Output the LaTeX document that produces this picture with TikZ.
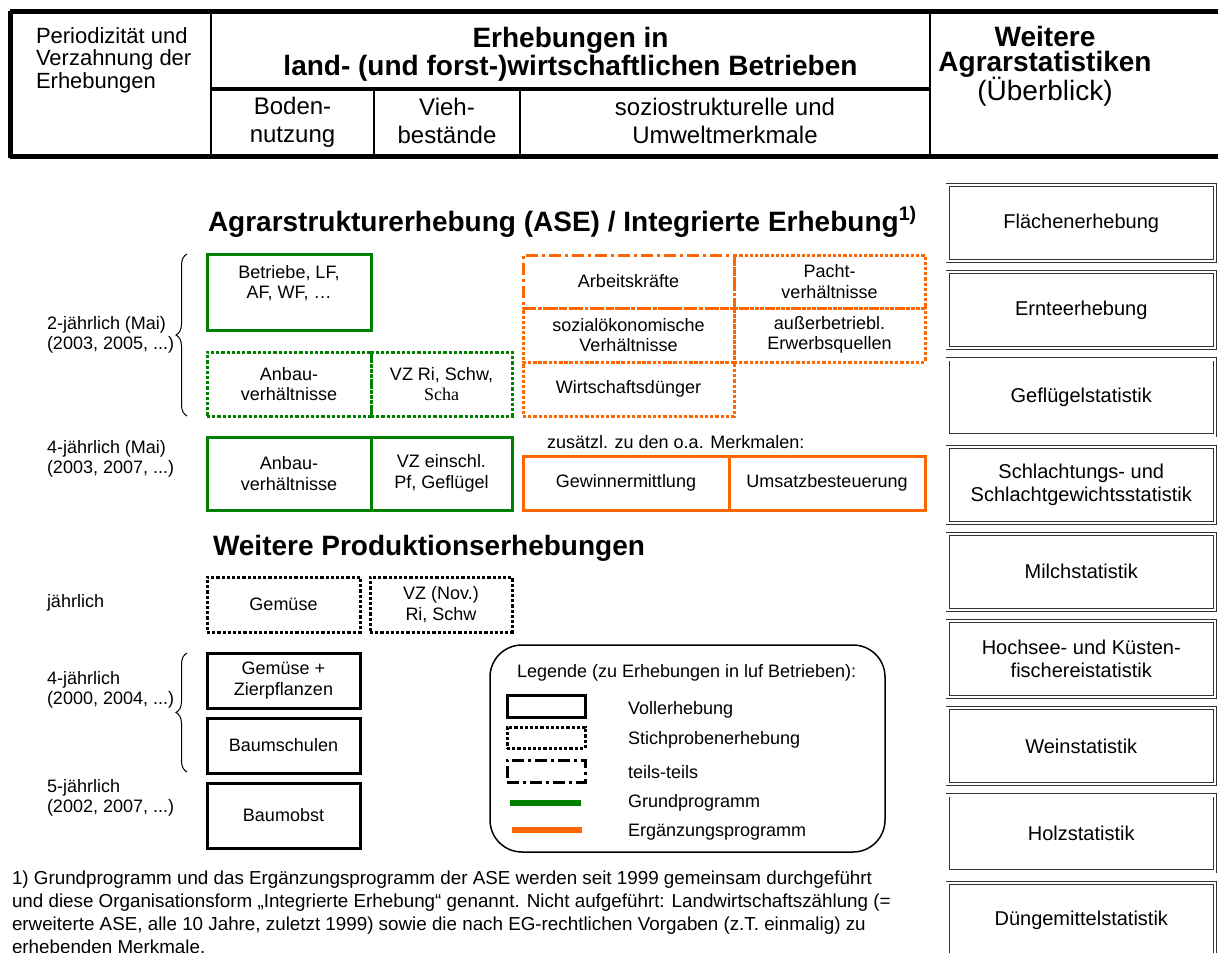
\documentclass[tikz,border=0pt]{standalone}
\usepackage{fontspec}
\setmainfont{Liberation Sans}
\newfontfamily\serifcha{Liberation Serif}
\usetikzlibrary{fit,decorations.pathreplacing}
\definecolor{agreen}{RGB}{0,128,0}
\definecolor{aorange}{RGB}{255,102,0}
\begin{document}
\begin{tikzpicture}[x=0.5pt,y=-0.5pt,
  every node/.style={inner sep=0pt, outer sep=0pt},
  t9/.style={font=\fontsize{9}{10.3}\selectfont, align=center},
  t10/.style={font=\fontsize{10}{11.5}\selectfont, align=center},
  t12/.style={font=\fontsize{12}{14}\selectfont, align=center},
  hb/.style={font=\fontsize{14}{14}\selectfont\bfseries, align=center},
  dotpat/.style={dash pattern=on 1.6pt off 1pt},
  dashdotpat/.style={dash pattern=on 6pt off 2pt on 1.5pt off 2pt},
  gsolid/.style={draw=agreen, line width=1.5pt},
  gdot/.style={draw=agreen, line width=1.5pt, dotpat},
  osolid/.style={draw=aorange, line width=1.5pt},
  odot/.style={draw=aorange, line width=1.5pt, dotpat},
  odashdot/.style={draw=aorange, line width=1.5pt, dashdotpat},
  ksolid/.style={draw=black, line width=1.5pt},
  kdot/.style={draw=black, line width=1.5pt, dotpat},
  kdashdot/.style={draw=black, line width=1.5pt, dashdotpat},
  rbox/.style={draw=black!80, line width=0.45pt, double=white, double distance=1.1pt},
  lbl/.style={t9, align=left, anchor=west},
  bracestyle/.style={decorate, decoration={brace, amplitude=5.5pt}, line width=0.5pt},
]
\useasboundingbox (0,0) rectangle (1218,952);

% ---------------- header table ----------------
\draw[line width=0.6pt] (211,12) -- (211,157);
\draw[line width=0.6pt] (930,12) -- (930,157);
\draw[line width=0.6pt] (374,89) -- (374,157);
\draw[line width=0.6pt] (520,89) -- (520,157);
\draw[line width=2pt] (211,89) -- (930,89);
\draw[line width=2.5pt] (10,12) -- (1218,12);
\draw[line width=2.5pt] (10,157) -- (1218,157);
\draw[line width=2.5pt] (10,10.75) -- (10,158.25);

\node[font=\fontsize{11}{11.25}\selectfont, align=left, anchor=west] (hperiod) at (36,60) {Periodizität und\\Verzahnung der\\Erhebungen};
\node[hb] (herheb) at (570.5,54) {Erhebungen in\\land- (und forst-)wirtschaftlichen Betrieben};
\node[hb, anchor=base] (hweitere1) at (1045,47) {Weitere};
\node[hb, anchor=base] (hweitere2) at (1045,72) {Agrarstatistiken};
\node[font=\fontsize{14}{14}\selectfont, anchor=base] (hweitere3) at (1045,101) {(Überblick)};
\node[t12] (hboden) at (292.5,122) {Boden-\\nutzung};
\node[t12] (hvieh) at (447,121) {Vieh-\\bestände};
\node[t12] (hsozio) at (725,120.5) {soziostrukturelle und\\Umweltmerkmale};

% ---------------- right column ----------------
\foreach \i/\txt in {0/Flächenerhebung, 1/Ernteerhebung, 2/Geflügelstatistik,
  3/{Schlachtungs- und\\Schlachtgewichtsstatistik}, 4/Milchstatistik,
  5/{Hochsee- und Küsten-\\fischereistatistik}, 6/Weinstatistik, 7/Holzstatistik,
  8/Düngemittelstatistik}{
  \pgfmathsetmacro{\ytop}{185+87.2*\i}
  \pgfmathsetmacro{\ybot}{\ytop+76}
  \node[rbox, fit={(947.5,\ytop) (1215,\ybot)}] (r\i) {};
  \node[t10] (r\i-t) at (r\i.center) {\txt};
}

% ---------------- ASE ----------------
\node[hb, anchor=west] (tase) at (208,222) {Agrarstrukturerhebung (ASE) / Integrierte Erhebung\textsuperscript{1)}};

\node[lbl] (l2j) at (47,335) {2-jährlich (Mai)\\(2003, 2005, ...)};
\node[lbl] (l4j) at (47,459) {4-jährlich (Mai)\\(2003, 2007, ...)};
\coordinate (br1b) at (187,416);
\coordinate (br1t) at (187,254);
\draw[bracestyle] (br1b) -- (br1t);

\node[gsolid, fit={(207,254) (371,330)}] (gbetr) {};
\node[t9] (gbetr-t) at (289,283) {Betriebe, LF,\\AF, WF, …};
\node[gdot, fit={(207,352) (371,416)}] (ganbau1) {};
\node[t9] (ganbau1-t) at (ganbau1.center) {Anbau-\\verhältnisse};
\node[gdot, fit={(371,352) (512,416)}] (gvz1) {};
\node[t9] (gvz1-t) at (gvz1.center) {VZ Ri, Schw,\\{\serifcha Scha}};
\node[gsolid, fit={(207,437) (371,510)}] (ganbau2) {};
\node[t9] (ganbau2-t) at (ganbau2.center) {Anbau-\\verhältnisse};
\node[gsolid, fit={(371,437) (512,510)}] (gvz2) {};
\node[t9] (gvz2-t) at (gvz2.center) {VZ einschl.\\Pf, Geflügel};

\node[odot, fit={(734,255) (925,308)}] (opacht) {};
\node[t9] (opacht-t) at (opacht.center) {Pacht-\\verhältnisse};
\node[odot, fit={(523,308) (734,362)}] (osozial) {};
\node[t9] (osozial-t) at (osozial.center) {sozialökonomische\\Verhältnisse};
\node[odot, fit={(734,308) (925,362)}] (oausser) {};
\node[t9] (oausser-t) at (oausser.center) {außerbetriebl.\\Erwerbsquellen};
\node[odot, fit={(523,362) (734,416)}] (owirt) {};
\node[t9] (owirt-t) at (owirt.center) {Wirtschaftsdünger};
\node[odashdot, fit={(523,255) (734,308)}] (oarbeit) {};
\node[t9] (oarbeit-t) at (oarbeit.center) {Arbeitskräfte};

\node[t9, anchor=west] (zus) at (547,442) {zusätzl. zu den o.a. Merkmalen:};
\node[osolid, fit={(523,456) (729,510)}] (ogewinn) {};
\node[t9] (ogewinn-t) at (ogewinn.center) {Gewinnermittlung};
\node[osolid, fit={(729,456) (925,510)}] (oumsatz) {};
\node[t9] (oumsatz-t) at (oumsatz.center) {Umsatzbesteuerung};

% ---------------- Weitere Produktionserhebungen ----------------
\node[hb, anchor=west] (tprod) at (213,548) {Weitere Produktionserhebungen};

\node[lbl] (ljahr) at (47,603) {jährlich};
\node[kdot, fit={(207,577) (360,632)}] (pgem) {};
\node[t9] (pgem-t) at (pgem.center) {Gemüse};
\node[kdot, fit={(370,577) (512,632)}] (pvz) {};
\node[t9] (pvz-t) at (pvz.center) {VZ (Nov.)\\Ri, Schw};

\node[lbl] (l4j2) at (47,690) {4-jährlich\\(2000, 2004, ...)};
\coordinate (br2b) at (187,772);
\coordinate (br2t) at (187,653);
\draw[bracestyle] (br2b) -- (br2t);
\node[ksolid, fit={(207,653) (360,708)}] (pzier) {};
\node[t9] (pzier-t) at (pzier.center) {Gemüse +\\Zierpflanzen};
\node[ksolid, fit={(207,718) (360,773)}] (pbaum) {};
\node[t9] (pbaum-t) at (pbaum.center) {Baumschulen};

\node[lbl] (l5j) at (47,798) {5-jährlich\\(2002, 2007, ...)};
\node[ksolid, fit={(207,783) (360,848)}] (pobst) {};
\node[t9] (pobst-t) at (pobst.center) {Baumobst};

% ---------------- legend ----------------
\node[draw, line width=0.75pt, rounded corners=16pt, fit={(490,645) (885,852)}] (leg) {};
\node[t9, anchor=west] (legt) at (517,673) {Legende (zu Erhebungen in luf Betrieben):};
\node[ksolid, fit={(507,695) (585,717)}] (lg1) {};
\node[kdot, fit={(507,727) (585,748)}] (lg2) {};
\node[kdashdot, fit={(507,760) (585,782)}] (lg3) {};
\coordinate (lg4a) at (510,803); \coordinate (lg4b) at (581,803);
\coordinate (lg5a) at (512,830); \coordinate (lg5b) at (582,830);
\draw[agreen, line width=3pt] (lg4a) -- (lg4b);
\draw[aorange, line width=3pt] (lg5a) -- (lg5b);
\node[lbl] (lgt1) at (628,710) {Vollerhebung};
\node[lbl] (lgt2) at (628,740) {Stichprobenerhebung};
\node[lbl] (lgt3) at (628,772) {teils-teils};
\node[lbl] (lgt4) at (628,803) {Grundprogramm};
\node[lbl] (lgt5) at (628,832) {Ergänzungsprogramm};

% ---------------- footnote ----------------
\node[font=\fontsize{9.4}{11.5}\selectfont, align=left, anchor=base west] (fn) at (12,953)
 {1) Grundprogramm und das Ergänzungsprogramm der ASE werden seit 1999 gemeinsam durchgeführt\\
 und diese Organisationsform „Integrierte Erhebung“ genannt. Nicht aufgeführt: Landwirtschaftszählung (=\\
 erweiterte ASE, alle 10 Jahre, zuletzt 1999) sowie die nach EG-rechtlichen Vorgaben (z.T. einmalig) zu\\
 erhebenden Merkmale.};
\end{tikzpicture}
\end{document}
